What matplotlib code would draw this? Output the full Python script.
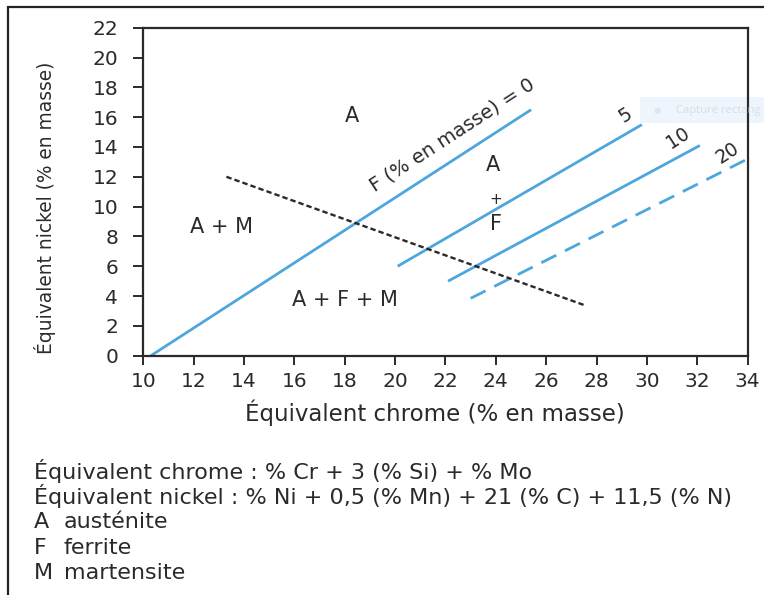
import matplotlib
matplotlib.use("Agg")
import matplotlib.pyplot as plt
from matplotlib.patches import Rectangle

# Schaeffler-type diagram: iso-ferrite lines (x = Cr eq, y = Ni eq)
ferrite_levels = ["0", "5", "10", "20"]
ferrite_x = [[10.3, 25.4], [20.1, 29.8], [22.1, 32.1], [23.0, 34.0]]
ferrite_y = [[0.0, 16.5], [6.0, 15.5], [5.0, 14.1], [3.85, 13.2]]

# martensite boundary (black dashed)
mart_x = [13.3, 27.5]
mart_y = [12.0, 3.4]

# region labels
region_text = ["A", "A + M", "A + F + M", "A", "+", "F"]
region_x = [18.3, 13.1, 18.0, 23.9, 24.0, 24.0]
region_y = [16.1, 8.6, 3.75, 12.8, 10.5, 8.8]

# labels of the iso-ferrite lines
level_text = ["F (% en masse) = 0", "5", "10", "20"]
level_x = [22.26, 29.13, 31.23, 33.19]
level_y = [14.84, 16.15, 14.6, 13.6]

xticks = list(range(10, 35, 2))
yticks = list(range(0, 23, 2))

notes = [
    "Équivalent chrome : % Cr + 3 (% Si) + % Mo",
    "Équivalent nickel : % Ni + 0,5 (% Mn) + 21 (% C) + 11,5 (% N)",
]
phase_keys = ["A", "F", "M"]
phase_names = ["austénite", "ferrite", "martensite"]

BLUE = "#4ea6de"
DARK = "#2a2a2a"

plt.rcParams["font.family"] = ["DejaVu Sans"]

fig = plt.figure(figsize=(7.64, 5.95), dpi=100)

# outer frame (left + top visible)
fig.add_artist(Rectangle((8 / 764, -0.05), 1.0, 1 - 7 / 595 + 0.05,
                         transform=fig.transFigure, fill=False,
                         edgecolor="#222222", linewidth=1.6))

# faint screen-capture overlay
fig.add_artist(Rectangle((640 / 764, 1 - 123 / 595), 124 / 764, 26 / 595,
                         transform=fig.transFigure, facecolor="#eef5fd",
                         edgecolor="none", zorder=0))
fig.text(654 / 764, 1 - 110 / 595, "\u25cf", fontsize=6, color="#dde6f0",
         va="center")
fig.text(676 / 764, 1 - 110 / 595, "Capture rectang", fontsize=8.1,
         color="#d6dee8", va="center", family=["Open Sans", "DejaVu Sans"])

ax = fig.add_axes([143.3 / 764, 1 - 355.7 / 595, 604.4 / 764, 328.0 / 595])
ax.set_facecolor("none")

for lvl, xs, ys in zip(ferrite_levels, ferrite_x, ferrite_y):
    if lvl == "20":
        ax.plot(xs, ys, color=BLUE, linewidth=2.0,
                dashes=(6, 3.5), dash_capstyle="butt")
    else:
        ax.plot(xs, ys, color=BLUE, linewidth=2.0, solid_capstyle="butt")

ax.plot(mart_x, mart_y, color=DARK, linewidth=1.7, dashes=(2.3, 1.3))

for t, x, y in zip(region_text, region_x, region_y):
    fs = 11 if t == "+" else 15
    ax.text(x, y, t, fontsize=fs, color=DARK, ha="center", va="center")

for t, x, y in zip(level_text, level_x, level_y):
    fs = 14 if len(t) > 3 else 13.5
    ax.text(x, y, t, fontsize=fs, color=DARK, rotation=33,
            ha="center", va="center", rotation_mode="anchor")

ax.set_xlim(10, 34)
ax.set_ylim(0, 22)
ax.set_xticks(xticks)
ax.set_yticks(yticks)
ax.tick_params(direction="out", width=1.4, labelsize=14.5, colors=DARK)
ax.tick_params(axis="y", length=7, pad=11)
ax.tick_params(axis="x", length=6.5, pad=5)
for sp in ax.spines.values():
    sp.set_linewidth(1.6)
    sp.set_color(DARK)

ax.set_xlabel("Équivalent chrome (% en masse)", fontsize=16.5, color=DARK,
              va="center")
ax.xaxis.set_label_coords(0.482, -0.175)
ax.set_ylabel("Équivalent nickel (% en masse)", fontsize=13.4, color=DARK,
              va="center")
ax.yaxis.set_label_coords(-0.163, 0.45)

y0 = 471
for i, line in enumerate(notes):
    fig.text(34 / 764, 1 - (y0 + 25.5 * i) / 595, line, fontsize=16,
             color=DARK, va="center")
for i, (k, name) in enumerate(zip(phase_keys, phase_names)):
    yy = 1 - (y0 + 25.5 * (i + 2)) / 595
    fig.text(34 / 764, yy, k, fontsize=16, color=DARK, va="center")
    fig.text(64 / 764, yy, name, fontsize=16, color=DARK, va="center")

fig.savefig("out.png", dpi=100)
